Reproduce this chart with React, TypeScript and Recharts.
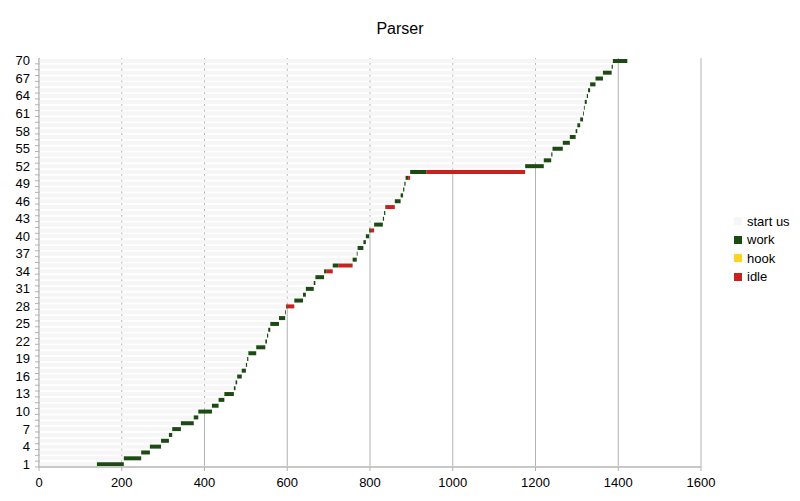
import { Bar, BarChart, CartesianGrid, XAxis, YAxis } from "recharts";

// rows, bottom to top
const rows = [
  1, 2, 3, 4, 5, 6, 7, 8, 9, 10, 11, 12, 13, 14, 15, 16, 17, 18, 19, 20,
  21, 22, 23, 24, 25, 26, 27, 28, 29, 30, 31, 32, 33, 34, 35, 36, 37, 38, 39, 40,
  41, 42, 43, 44, 45, 46, 47, 48, 49, 50, 51, 52, 53, 54, 55, 56, 57, 58, 59, 60,
  61, 62, 63, 64, 65, 66, 67, 68, 69, 70,
];

const startUs = [
  140, 205, 247, 268, 295, 314, 322, 343, 374, 385,
  418, 434, 448, 471, 475, 479, 490, 500, 503, 506,
  525, 547, 551, 554, 559, 580, 595, 597, 617, 638,
  645, 664, 668, 689, 710, 758, 768, 770, 784, 790,
  798, 810, 831, 834, 837, 860, 874, 880, 883, 886,
  897, 1175, 1220, 1238, 1241, 1266, 1283, 1297, 1301, 1308,
  1315, 1317, 1319, 1324, 1327, 1332, 1345, 1363, 1384, 1387,
];

const workUs = [
  65, 42, 21, 27, 19, 8, 21, 31, 11, 33,
  16, 14, 23, 4, 4, 11, 10, 3, 3, 19,
  22, 4, 3, 5, 21, 15, 2, 2, 21, 7,
  19, 4, 21, 5, 13, 10, 2, 14, 6, 8,
  4, 21, 3, 3, 1.5, 14, 6, 3, 3, 6,
  40, 45, 18, 3, 25, 17, 14, 4, 7, 7,
  2, 2, 5, 3, 5, 13, 18, 21, 3, 35,
];

const hookUs = [
  0, 0, 0, 0, 0, 0, 0, 0, 0, 0,
  0, 0, 0, 0, 0, 0, 0, 0, 0, 0,
  0, 0, 0, 0, 0, 0, 0, 0, 0, 0,
  0, 0, 0, 0, 0, 0, 0, 0, 0, 0,
  0, 0, 0, 0, 0, 0, 0, 0, 0, 0,
  0, 0, 0, 0, 0, 0, 0, 0, 0, 0,
  0, 0, 0, 0, 0, 0, 0, 0, 0, 0,
];

const idleUs = [
  0, 0, 0, 0, 0, 0, 0, 0, 0, 0,
  0, 0, 0, 0, 0, 0, 0, 0, 0, 0,
  0, 0, 0, 0, 0, 0, 0, 18, 0, 0,
  0, 0, 0, 16, 35, 0, 0, 0, 0, 0,
  8, 0, 0, 0, 21.5, 0, 0, 0, 0, 5,
  238, 0, 0, 0, 0, 0, 0, 0, 0, 0,
  0, 0, 0, 0, 0, 0, 0, 0, 0, 0,
];

const xTicks = [0, 200, 400, 600, 800, 1000, 1200, 1400, 1600];

const series = [
  { key: "start", name: "start us", color: "#f6f6f6" },
  { key: "work", name: "work", color: "#1c4a13" },
  { key: "hook", name: "hook", color: "#ffd320" },
  { key: "idle", name: "idle", color: "#c9211e" },
];

const data = rows.map((row, i) => ({
  row,
  start: startUs[i],
  work: workUs[i],
  hook: hookUs[i],
  idle: idleUs[i],
}));

const font = '"Liberation Sans", Arial, sans-serif';
const band = 409 / 70;

function RowTick(props: any) {
  const { y, payload } = props;
  const v = Number(payload.value);
  return (
    <g>
      <line x1={35} x2={39} y1={y + band / 2} y2={y + band / 2} stroke="#b3b3b3" />
      {(v - 1) % 3 === 0 && (
        <text x={30} y={y} dy={4.5} textAnchor="end" fontSize={13} fill="#000" fontFamily={font}>
          {v}
        </text>
      )}
    </g>
  );
}

export default function App() {
  return (
    <div style={{ position: "absolute", left: 0, top: 0, width: 800, height: 501, background: "#fff", fontFamily: font }}>
      <div style={{ position: "absolute", top: 20, width: 800, textAlign: "center", fontSize: 16 }}>Parser</div>
      <BarChart
        width={800}
        height={501}
        data={data}
        layout="vertical"
        barSize={4}
        margin={{ top: 58, right: 99, bottom: 4, left: 0 }}
      >
        <CartesianGrid horizontal={false} stroke="#b3b3b3" />
        <XAxis
          type="number"
          domain={[0, 1600]}
          ticks={xTicks}
          interval={0}
          height={30}
          tickSize={4}
          tickMargin={7}
          axisLine={{ stroke: "#c8c8c8", strokeWidth: 2 }}
          tickLine={{ stroke: "#b3b3b3" }}
          tick={{ fill: "#000", fontSize: 13, fontFamily: font }}
        />
        <XAxis
          xAxisId="top"
          orientation="top"
          type="number"
          domain={[0, 1600]}
          height={0}
          tick={false}
          tickLine={false}
          axisLine={{ stroke: "#cfcfcf", strokeWidth: 2 }}
        />
        <YAxis
          type="category"
          dataKey="row"
          reversed
          width={39}
          interval={0}
          tickLine={false}
          axisLine={{ stroke: "#b3b3b3" }}
          tick={<RowTick />}
        />
        {series.map((s) => (
          <Bar key={s.key} dataKey={s.key} name={s.name} stackId="a" fill={s.color} isAnimationActive={false} />
        ))}
      </BarChart>
      <div style={{ position: "absolute", left: 734, top: 212, fontSize: 13 }}>
        {series.map((s) => (
          <div key={s.key} style={{ display: "flex", alignItems: "center", height: 18.5 }}>
            <span style={{ width: 8, height: 8, background: s.color, marginRight: 5, display: "inline-block" }} />
            <span>{s.name}</span>
          </div>
        ))}
      </div>
    </div>
  );
}
